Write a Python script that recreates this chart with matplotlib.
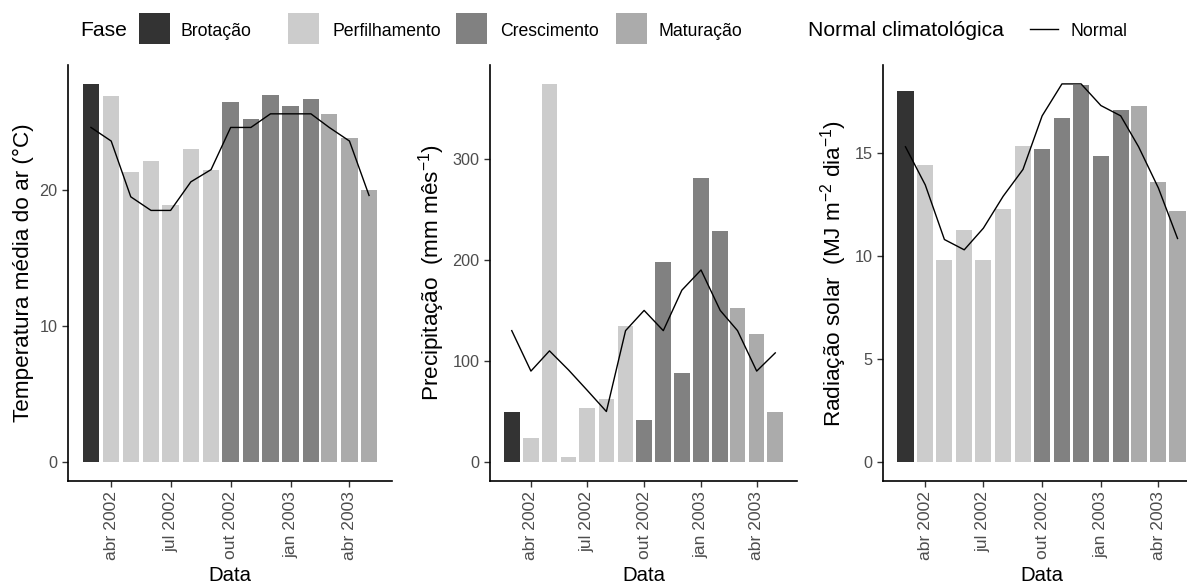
import pandas as pd
import matplotlib
matplotlib.use('Agg')
import matplotlib.pyplot as plt
import matplotlib.dates as mdates
from matplotlib.patches import Rectangle
from matplotlib.lines import Line2D
from datetime import datetime

plt.rcParams['font.family'] = ['Liberation Sans', 'DejaVu Sans']
plt.rcParams['mathtext.fontset'] = 'custom'
plt.rcParams['mathtext.rm'] = 'Liberation Sans'
plt.rcParams['mathtext.it'] = 'Liberation Sans:italic'

# dados mensais mar/2002 - mai/2003
meses = pd.date_range('2002-03-01', '2003-05-01', freq='MS')
fase = ['Brotação',
        'Perfilhamento', 'Perfilhamento', 'Perfilhamento', 'Perfilhamento', 'Perfilhamento', 'Perfilhamento',
        'Crescimento', 'Crescimento', 'Crescimento', 'Crescimento', 'Crescimento',
        'Maturação', 'Maturação', 'Maturação']
temp = [27.8, 26.9, 21.3, 22.1, 18.9, 23.0, 21.5, 26.5, 25.2, 27.0, 26.2, 26.7, 25.6, 23.8, 20.0]
temp_normal = [24.6, 23.6, 19.5, 18.5, 18.5, 20.6, 21.5, 24.6, 24.6, 25.6, 25.6, 25.6, 24.6, 23.6, 19.6]
prec = [50, 24, 374, 5, 53, 62, 135, 42, 198, 88, 281, 229, 152, 127, 50]
prec_normal = [130, 90, 110, 91, 71, 50, 130, 150, 130, 170, 190, 150, 130, 90, 108]
rad = [18.0, 14.4, 9.8, 11.25, 9.8, 12.3, 15.35, 15.2, 16.7, 18.3, 14.85, 17.1, 17.3, 13.6, 12.2]
rad_normal = [15.3, 13.45, 10.8, 10.3, 11.35, 12.9, 14.2, 16.8, 18.35, 18.35, 17.3, 16.8, 15.3, 13.3, 10.85]

fases = ['Brotação', 'Perfilhamento', 'Crescimento', 'Maturação']
cores = {'Brotação': '#333333', 'Perfilhamento': '#CCCCCC',
         'Crescimento': '#818181', 'Maturação': '#ABABAB'}

ticks = [datetime(2002, 4, 1), datetime(2002, 7, 1), datetime(2002, 10, 1),
         datetime(2003, 1, 1), datetime(2003, 4, 1)]
tick_labels = ['abr 2002', 'jul 2002', 'out 2002', 'jan 2003', 'abr 2003']

paineis = [
    (temp, temp_normal, 'Temperatura média do ar (°C)', [0, 10, 20]),
    (prec, prec_normal, 'Precipitação  (mm mês$^{-1}$)', [0, 100, 200, 300]),
    (rad, rad_normal, 'Radiação solar  (MJ m$^{-2}$ dia$^{-1}$)', [0, 5, 10, 15]),
]

W, H = 1187, 587
fig = plt.figure(figsize=(W / 100, H / 100), dpi=100)
caixas = [(68, 324), (490, 307), (883, 317)]

x = mdates.date2num(meses.to_pydatetime())
larg = 25.2
lo, hi = x[0] - larg / 2, x[-1] + larg / 2
pad = 0.05 * (hi - lo)

for (vals, normal, ylab, yt), (l, w) in zip(paineis, caixas):
    ax = fig.add_axes([l / W, 106 / H, w / W, 416 / H])
    ax.bar(x, vals, width=larg, color=[cores[f] for f in fase])
    ax.plot(x, normal, color='black', lw=1.0)
    ymax = max(max(vals), max(normal))
    ax.set_ylim(-0.05 * ymax, 1.05 * ymax)
    ax.set_xlim(lo - pad, hi + pad)
    ax.set_yticks(yt)
    ax.set_xticks(mdates.date2num(ticks))
    ax.set_xticklabels(tick_labels, rotation=90)
    for s in ['top', 'right']:
        ax.spines[s].set_visible(False)
    for s in ['left', 'bottom']:
        ax.spines[s].set_linewidth(1.2)
    ax.tick_params(direction='out', length=4, width=1, color='#333333',
                   labelcolor='#4D4D4D')
    ax.tick_params(axis='x', labelsize=12.6)
    ax.tick_params(axis='y', labelsize=11.7)
    ax.set_ylabel(ylab, fontsize=16.2, labelpad=4)
    ax.set_xlabel('Data', fontsize=14.7, labelpad=4)

# legenda no topo
yc = 1 - 31 / H
fig.text(80 / W, yc, 'Fase', fontsize=15.2, va='center')
pos_fase = [(139, 180), (288, 332), (456, 500), (616, 658)]
for f, (xk, xt) in zip(fases, pos_fase):
    fig.add_artist(Rectangle((xk / W, 1 - 44 / H), 31 / W, 31 / H,
                             transform=fig.transFigure, facecolor=cores[f], edgecolor='none'))
    fig.text(xt / W, yc, f, fontsize=12.7, va='center')
fig.text(808 / W, yc, 'Normal climatológica', fontsize=15.2, va='center')
fig.add_artist(Line2D([1030 / W, 1058 / W], [1 - 29 / H] * 2, transform=fig.transFigure,
                      color='black', lw=1.0))
fig.text(1070 / W, yc, 'Normal', fontsize=12.7, va='center')

fig.savefig('out.png', dpi=100)
